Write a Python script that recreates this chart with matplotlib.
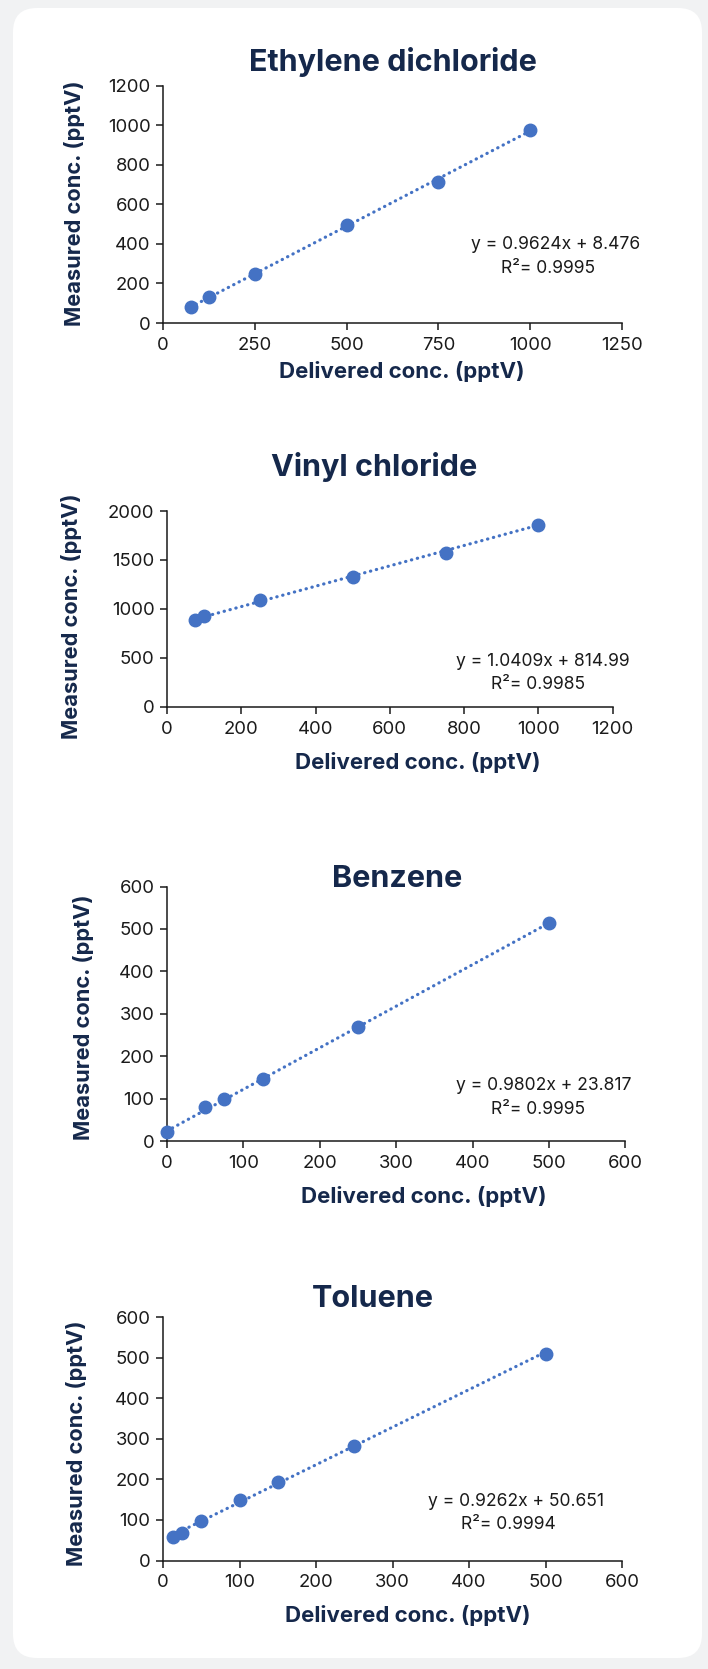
import matplotlib.pyplot as plt
from matplotlib.patches import FancyBboxPatch

W, H = 708, 1669

# Ethylene dichloride
edc_x = [75, 125, 250, 500, 750, 1000]
edc_y = [82, 131, 248, 495, 713, 978]
edc_fit = (0.9624, 8.476)
edc_eq = ['y = 0.9624x + 8.476', 'R²= 0.9995']
edc_xticks = [0, 250, 500, 750, 1000, 1250]
edc_yticks = [0, 200, 400, 600, 800, 1000, 1200]

# Vinyl chloride
vc_x = [75, 100, 250, 500, 750, 1000]
vc_y = [886, 930, 1087, 1322, 1567, 1860]
vc_fit = (1.0409, 814.99)
vc_eq = ['y = 1.0409x + 814.99', 'R²= 0.9985']
vc_xticks = [0, 200, 400, 600, 800, 1000, 1200]
vc_yticks = [0, 500, 1000, 1500, 2000]

# Benzene
bz_x = [0, 50, 75, 125, 250, 500]
bz_y = [22, 81, 98, 145, 269, 515]
bz_fit = (0.9802, 23.817)
bz_eq = ['y = 0.9802x + 23.817', 'R²= 0.9995']
bz_xticks = [0, 100, 200, 300, 400, 500, 600]
bz_yticks = [0, 100, 200, 300, 400, 500, 600]

# Toluene
tol_x = [12.5, 25, 50, 100, 150, 250, 500]
tol_y = [58, 68, 97, 148, 193, 283, 510]
tol_fit = (0.9262, 50.651)
tol_eq = ['y = 0.9262x + 50.651', 'R²= 0.9994']
tol_xticks = [0, 100, 200, 300, 400, 500, 600]
tol_yticks = [0, 100, 200, 300, 400, 500, 600]

navy = '#15284b'
blue = '#4472c4'
plt.rcParams['font.family'] = ['Inter', 'DejaVu Sans']

fig = plt.figure(figsize=(W / 100, H / 100), dpi=100)
fig.patch.set_facecolor('#f1f2f3')

# white card behind everything
card = FancyBboxPatch((13, H - 1658), 689, 1650, boxstyle='round,pad=0,rounding_size=24',
                      facecolor='white', edgecolor='none', transform=None, zorder=-10)
fig.add_artist(card)


def ftext(x, y, s, **kw):
    fig.text(x / W, 1 - y / H, s, **kw)


def panel(box, xs, ys, fit, eq, xticks, yticks, title, tpos, xlpos, ylpos, eqpos):
    left, right, y0, ytop = box
    ax = fig.add_axes([left / W, 1 - y0 / H, (right - left) / W, (y0 - ytop) / H])
    ax.set_facecolor('none')
    m, b = fit
    lx = [min(xs), max(xs)]
    ax.plot(lx, [m * v + b for v in lx], color=blue, lw=2.3,
            linestyle=(0, (0.1, 1.8)), dash_capstyle='round', zorder=2)
    ax.plot(xs, ys, 'o', color=blue, ms=9, zorder=3, clip_on=False)
    ax.set_xlim(xticks[0], xticks[-1])
    ax.set_ylim(yticks[0], yticks[-1])
    ax.set_xticks(xticks)
    ax.set_yticks(yticks)
    for s in ['top', 'right']:
        ax.spines[s].set_visible(False)
    for s in ['left', 'bottom']:
        ax.spines[s].set_linewidth(1.1)
        ax.spines[s].set_color('#1a1a1a')
    ax.tick_params(direction='out', length=5, width=1.1, color='#1a1a1a',
                   labelsize=13.3, labelcolor='#1a1a1a')
    ax.tick_params(axis='x', pad=5)
    ax.tick_params(axis='y', pad=4)

    ftext(tpos[0], tpos[1], title, ha='center', va='baseline', fontsize=22,
          fontweight='bold', color=navy)
    ftext(xlpos[0], xlpos[1], 'Delivered conc. (pptV)', ha='center', va='baseline',
          fontsize=16, fontweight='bold', color=navy)
    ftext(ylpos[0], ylpos[1], 'Measured conc. (pptV)', ha='center', va='center',
          rotation=90, fontsize=15.7, fontweight='bold', color=navy)
    (x1, y1), (x2, y2) = eqpos
    ftext(x1, y1, eq[0], ha='center', va='baseline', fontsize=12.6, color='#1a1a1a')
    ftext(x2, y2, eq[1], ha='center', va='baseline', fontsize=12.6, color='#1a1a1a')


panel((163, 622, 323, 85.7), edc_x, edc_y, edc_fit, edc_eq, edc_xticks, edc_yticks,
      'Ethylene dichloride', (393, 71), (402, 378), (74.5, 203), ((556, 249), (548, 273)))
panel((167, 612.7, 706.7, 511), vc_x, vc_y, vc_fit, vc_eq, vc_xticks, vc_yticks,
      'Vinyl chloride', (374.5, 476), (417.7, 769), (72, 616.7), ((543, 666), (538, 689)))
panel((167, 625.4, 1141, 886.5), bz_x, bz_y, bz_fit, bz_eq, bz_xticks, bz_yticks,
      'Benzene', (397, 887), (424, 1203), (83.5, 1017.5), ((544, 1090), (538, 1113.7)))
panel((163, 622, 1560.5, 1317), tol_x, tol_y, tol_fit, tol_eq, tol_xticks, tol_yticks,
      'Toluene', (373.3, 1307), (407.8, 1621.7), (76.8, 1443), ((516, 1506), (508.7, 1529)))

fig.savefig('out.png', dpi=100, facecolor=fig.get_facecolor())
